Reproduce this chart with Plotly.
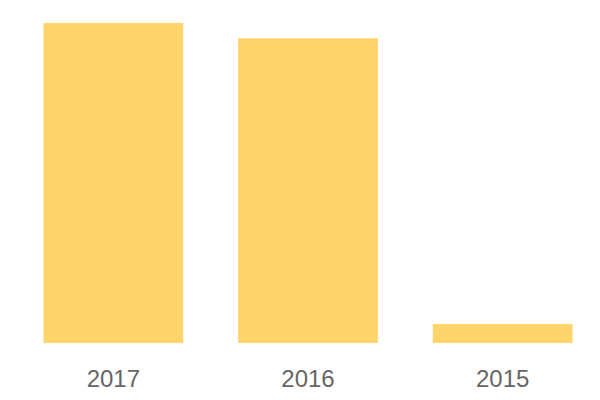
import plotly.graph_objects as go

years = ["2017", "2016", "2015"]
values = [168, 160, 10]

fig = go.Figure(go.Bar(x=years, y=values, marker_color="#FFD56B", marker_line_width=0))
fig.update_layout(
    width=600, height=400,
    margin=dict(l=8, r=8, t=15, b=65),
    paper_bgcolor="white", plot_bgcolor="white",
    bargap=0.282, showlegend=False,
    font=dict(family="Liberation Sans, Arial, sans-serif", color="#666666", size=24),
)
fig.update_xaxes(showgrid=False, zeroline=False, showline=False, ticks="",
                 ticklabelstandoff=19,
                 tickfont=dict(size=24, color="#666666"))
fig.update_yaxes(visible=False, range=[0, 168], showgrid=False, zeroline=False)
fig.write_html("out.html")
